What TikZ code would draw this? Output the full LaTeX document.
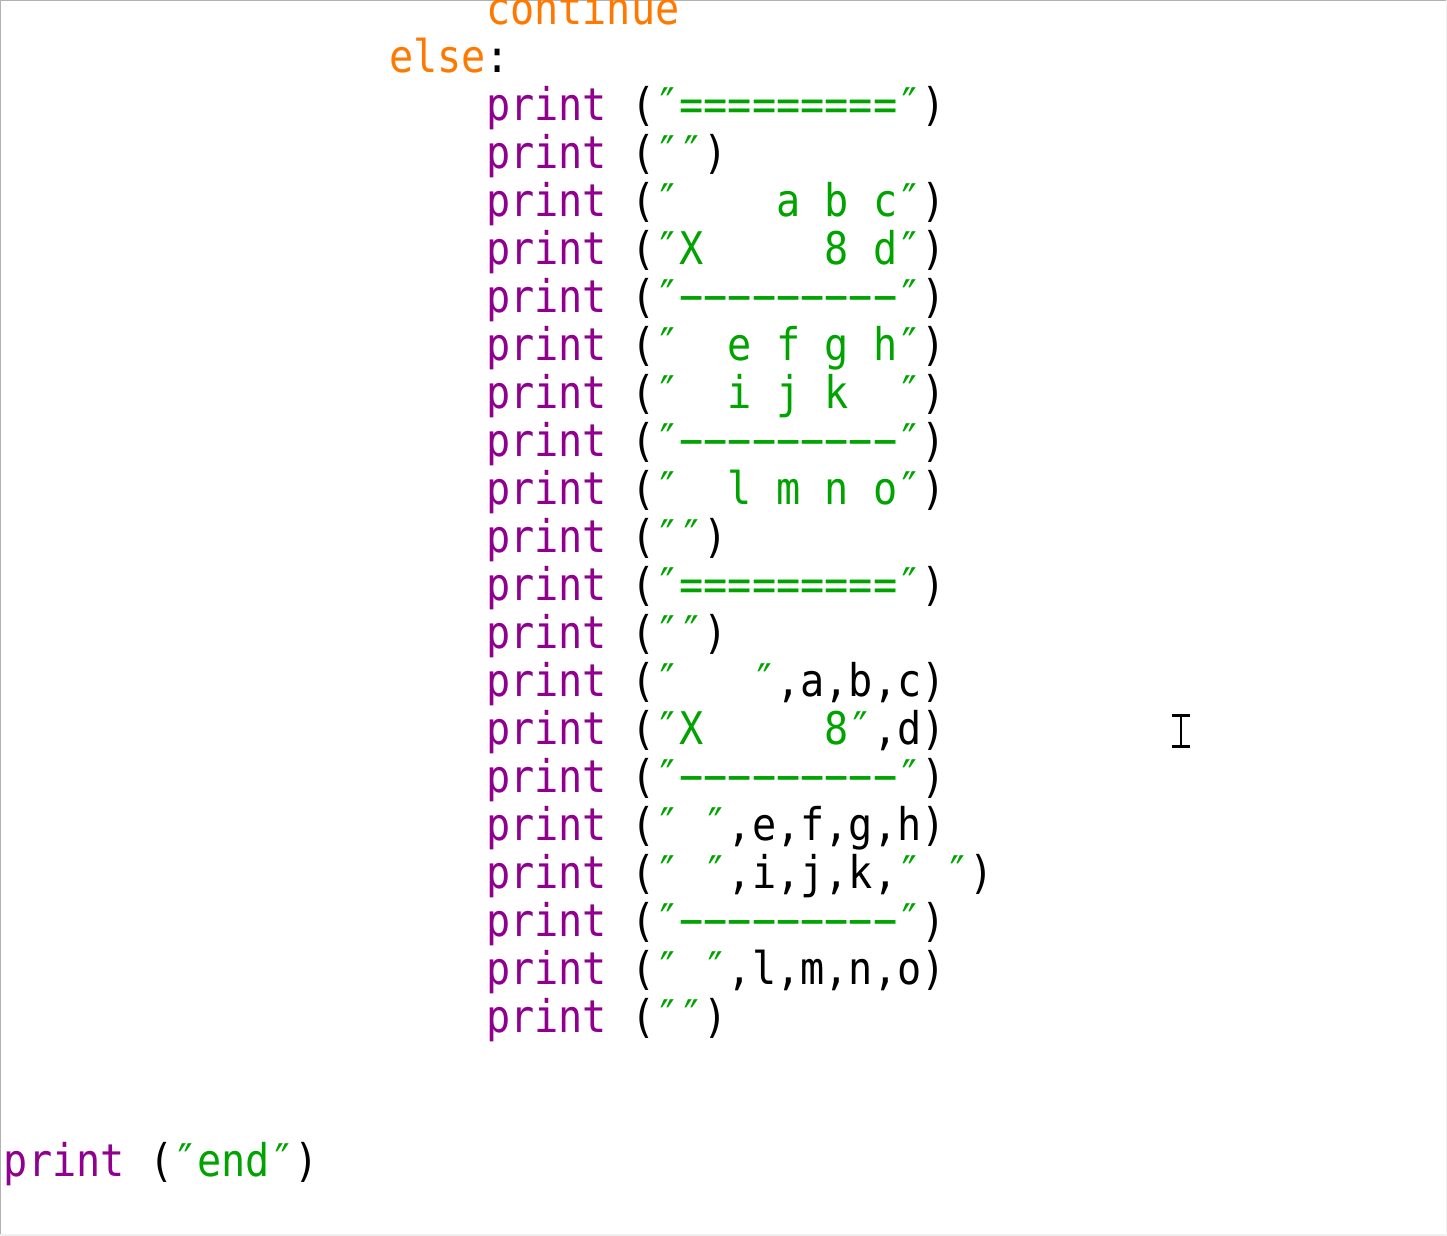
\documentclass[tikz,border=0pt]{standalone}
\usepackage{fontspec}
\newfontfamily\codefont[FakeStretch=0.893]{DejaVu Sans Mono}
\usepackage{color}
\definecolor{bi}{rgb}{0.56, 0.00, 0.56}
\definecolor{kw}{rgb}{1.00, 0.47, 0.00}
\definecolor{st}{rgb}{0.00, 0.64, 0.00}
\usepackage{tikz}
\usetikzlibrary{positioning}
\newcommand{\fn}[1]{\textcolor{bi}{#1}}
\newcommand{\kwd}[1]{\textcolor{kw}{#1}}
\newcommand{\str}[1]{\textcolor{st}{#1}}

\begin{document}
\begin{tikzpicture}[x=1pt, y=-1pt,
                    every node/.style = {text=black, inner sep=0pt, outer sep=0pt, anchor=base west,
                                         font=\codefont\fontsize{45pt}{48pt}\selectfont,
                                         text height=36pt, text depth=12pt},
                    next/.style = {below=0pt of #1.south west, anchor=north west}]
                \useasboundingbox (0,0) rectangle (1447,1235);
                \clip (0,0) rectangle (1447,1235);
                \draw[gray!60, line width=2pt] (0,1235) -- (0,0) -- (1447,0);
                \draw[gray!12, line width=2pt] (0,1235) -- (1447,1235) -- (1447,0);
                \node (p1) at (486,120) {\fn{print}~(\str{″=========″})};
                \node (els) [above left=0pt and 96.8pt of p1.north west, anchor=south west] {\kwd{else}:};
                \node (cont) [above right=0pt and 96.8pt of els.north west, anchor=south west] {\kwd{continue}};
                \node (p2) [next=p1] {\fn{print}~(\str{″″})};
                \node (p3) [next=p2] {\fn{print}~(\str{″~~~~a~b~c″})};
                \node (p4) [next=p3] {\fn{print}~(\str{″X~~~~~8~d″})};
                \node (p5) [next=p4] {\fn{print}~(\str{″−−−−−−−−−″})};
                \node (p6) [next=p5] {\fn{print}~(\str{″~~e~f~g~h″})};
                \node (p7) [next=p6] {\fn{print}~(\str{″~~i~j~k~~″})};
                \node (p8) [next=p7] {\fn{print}~(\str{″−−−−−−−−−″})};
                \node (p9) [next=p8] {\fn{print}~(\str{″~~l~m~n~o″})};
                \node (p10) [next=p9] {\fn{print}~(\str{″″})};
                \node (p11) [next=p10] {\fn{print}~(\str{″=========″})};
                \node (p12) [next=p11] {\fn{print}~(\str{″″})};
                \node (p13) [next=p12] {\fn{print}~(\str{″~~~″},a,b,c)};
                \node (p14) [next=p13] {\fn{print}~(\str{″X~~~~~8″},d)};
                \node (p15) [next=p14] {\fn{print}~(\str{″−−−−−−−−−″})};
                \node (p16) [next=p15] {\fn{print}~(\str{″~″},e,f,g,h)};
                \node (p17) [next=p16] {\fn{print}~(\str{″~″},i,j,k,\str{″~″})};
                \node (p18) [next=p17] {\fn{print}~(\str{″−−−−−−−−−″})};
                \node (p19) [next=p18] {\fn{print}~(\str{″~″},l,m,n,o)};
                \node (p20) [next=p19] {\fn{print}~(\str{″″})};
                \node (fin) [below left=96pt and 482pt of p20.south west, anchor=north west] {\fn{print}~(\str{″end″})};
                % text cursor
                \coordinate (cur) at (1181,730.5);
                \draw[line width=2pt] ([yshift=-15.5pt]cur) -- ([yshift=15.5pt]cur);
                \draw[line width=3pt] ([shift={(-9,-15.5)}]cur) -- ([shift={(9,-15.5)}]cur);
                \draw[line width=3pt] ([shift={(-9,15.5)}]cur) -- ([shift={(9,15.5)}]cur);
            \end{tikzpicture}
\end{document}
